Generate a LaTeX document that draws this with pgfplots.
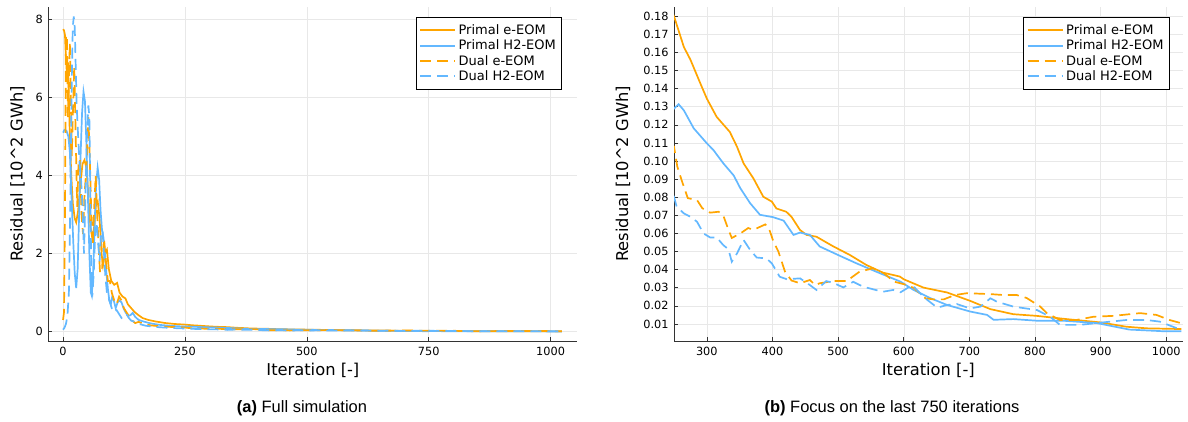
\documentclass[border=0pt]{standalone}
\usepackage{fontspec}
\setmainfont{DejaVu Sans}
\newfontfamily\capfont{Liberation Sans}
\usepackage{pgfplots}
\pgfplotsset{compat=1.18}
\usepackage{pgfplotstable}
\definecolor{jorange}{RGB}{255,165,0}
\definecolor{jblue}{RGB}{99,184,255}

\pgfplotstableread{
x y
0 7.75
2 7.72
4 7.6
6 7.0
8 6.6
10 6.9
12 6.0
14 5.0
17 4.0
20 3.3
24 2.9
27 2.8
31 3.1
35 3.7
40 4.3
44 4.4
48 4.2
52 3.5
56 2.7
60 2.4
64 2.7
68 3.3
71 3.35
75 2.9
79 2.0
82 1.7
86 2.0
90 2.1
94 1.6
99 1.3
105 1.2
111 1.25
116 1.0
122 0.9
128 0.85
133 0.7
140 0.6
147 0.5
155 0.42
163 0.35
175 0.3
190 0.26
210 0.22
230 0.195
250 0.180
265 0.163
275 0.156
290 0.143
300 0.1345
315 0.1244
335 0.1161
346 0.1079
356 0.0987
371 0.0904
386 0.0803
399 0.0776
406 0.0738
421 0.0720
429 0.0692
442 0.0619
452 0.0592
467 0.0582
492 0.0530
518 0.0481
543 0.0426
568 0.0384
594 0.0362
600 0.0347
630 0.0301
666 0.0274
701 0.0228
732 0.0182
767 0.0154
802 0.0145
848 0.0127
899 0.0109
939 0.0085
970 0.0076
1023 0.0072
}\PeE

\pgfplotstableread{
x y
0 5.1
3 5.17
7 5.15
11 5.0
14 4.6
17 3.6
21 2.3
24 1.5
27 1.12
30 1.6
33 3.0
36 4.5
39 5.6
42 6.15
45 5.9
48 4.8
51 3.5
54 2.0
57 1.0
59 0.92
62 1.6
65 2.8
68 3.8
71 4.2
74 3.9
77 3.1
80 2.6
83 2.4
86 2.0
89 1.5
92 1.1
95 0.8
98 0.7
101 0.9
104 0.8
108 0.6
112 0.75
116 0.8
120 0.75
124 0.6
128 0.5
133 0.4
138 0.42
143 0.48
148 0.38
155 0.3
165 0.26
180 0.21
200 0.17
225 0.145
250 0.129
257 0.1314
265 0.128
280 0.1181
300 0.1098
310 0.1061
325 0.0988
341 0.0920
351 0.0850
366 0.0767
381 0.0703
401 0.0690
417 0.0671
432 0.0592
442 0.0605
457 0.0592
472 0.0528
503 0.0476
528 0.0435
558 0.0389
595 0.0334
615 0.0288
641 0.0242
666 0.0205
701 0.0169
727 0.0150
737 0.0123
767 0.0127
803 0.0118
843 0.0118
894 0.0105
944 0.0069
995 0.0060
1023 0.0060
}\PhE

\pgfplotstableread{
x y
0 0.3
2 0.5
4 3.0
6 7.6
8 7.5
10 5.5
12 6.5
14 7.4
16 6.0
18 4.5
20 5.5
23 6.8
26 5.0
29 3.2
32 4.4
35 4.4
38 3.0
41 2.5
44 3.5
48 4.2
52 5.5
55 4.4
58 3.0
61 2.2
64 3.2
67 4.0
70 3.0
73 2.2
76 1.5
80 1.6
84 2.4
88 1.8
92 1.3
96 1.3
100 1.0
105 0.8
110 0.7
115 0.9
120 0.8
125 0.6
130 0.5
135 0.4
140 0.3
148 0.22
155 0.25
165 0.2
180 0.16
200 0.135
225 0.118
250 0.108
255 0.097
262 0.089
271 0.0795
285 0.0785
293 0.074
305 0.0715
318 0.072
325 0.070
333 0.062
338 0.0575
351 0.060
363 0.063
371 0.062
389 0.065
394 0.0635
401 0.056
409 0.050
419 0.039
429 0.034
442 0.0325
457 0.0343
465 0.0315
472 0.0325
493 0.0337
513 0.0337
533 0.039
553 0.0407
570 0.038
585 0.0334
600 0.032
615 0.030
633 0.0242
645 0.0236
661 0.0236
678 0.026
696 0.027
711 0.0268
732 0.0265
752 0.026
772 0.026
787 0.0244
808 0.0196
818 0.016
838 0.0122
863 0.0122
889 0.014
920 0.0145
960 0.016
985 0.015
1005 0.0122
1023 0.0104
}\DeE

\pgfplotstableread{
x y
0 0.05
3 0.1
6 0.2
9 0.4
12 1.0
14 2.5
16 4.5
18 6.5
20 7.8
22 8.08
24 7.8
26 6.8
28 5.8
31 5.0
34 4.3
37 3.9
40 3.2
43 2.0
46 3.5
49 5.0
52 5.8
54 5.5
56 3.5
58 1.5
60 0.9
63 1.5
66 2.5
69 2.8
72 2.3
75 1.8
78 2.5
81 2.6
84 2.0
87 1.4
90 1.0
95 0.8
100 0.6
105 0.5
110 0.55
115 0.45
120 0.35
125 0.4
130 0.45
135 0.35
140 0.28
148 0.25
155 0.2
170 0.15
190 0.12
220 0.095
250 0.0803
254 0.0748
265 0.0711
275 0.0692
285 0.0665
295 0.060
305 0.0578
315 0.0578
325 0.0536
333 0.0512
338 0.0444
346 0.049
356 0.0564
366 0.0509
376 0.0467
391 0.0462
399 0.0435
411 0.0361
422 0.0347
442 0.0352
457 0.0315
467 0.0288
482 0.0337
492 0.0328
508 0.0302
523 0.0333
538 0.0306
568 0.0278
584 0.0288
595 0.0275
613 0.0315
630 0.025
651 0.019
666 0.0205
681 0.021
701 0.0186
717 0.0196
732 0.0242
742 0.0223
767 0.0196
803 0.0177
823 0.014
838 0.0095
868 0.0095
899 0.0107
939 0.0122
970 0.0122
990 0.0113
1010 0.0085
1023 0.0067
}\DhE

\pgfplotsset{
 jstyle/.style={
  scale only axis, anchor=south west,
  axis x line*=bottom, axis y line*=left,
  axis line style={line width=0.8bp, black!80},
  tick align=inside, major tick length=4bp,
  tick style={line width=0.6bp, black!80},
  grid=major, grid style={line width=0.5bp, black!9},
  /pgf/number format/assume math mode=true,
  /pgf/number format/1000 sep={},
  tick label style={font=\fontsize{11.3bp}{13bp}\selectfont, black},
  xticklabel style={yshift=-3bp},
  yticklabel style={xshift=-2bp},
  label style={font=\fontsize{16.3bp}{18bp}\selectfont},
  legend cell align=left,
  legend style={font=\fontsize{13bp}{14bp}\selectfont, draw=black, line width=0.6bp,
    inner xsep=3bp, inner ysep=5bp, row sep=0bp, anchor=north east,
    nodes={inner xsep=2.5bp, inner ysep=2bp}},
  legend image code/.code={\draw[##1, line width=2bp] (0bp,0bp) -- (35bp,0bp);},
  xlabel={Iteration [-]},
  ylabel={Residual [10\textasciicircum 2 GWh]},
 },
 jdash/.style={dash pattern=on 11bp off 6bp},
}

\begin{document}
\begin{tikzpicture}[x=1bp,y=1bp]
\useasboundingbox (0,0) rectangle (1188,421);
\begin{axis}[jstyle, at={(48.4bp,80bp)}, width=529bp, height=334bp,
  xmin=-30, xmax=1055, ymin=-0.24, ymax=8.32,
  xtick={0,250,500,750,1000}, ytick={0,2,4,6,8},
  xlabel style={at={(axis description cs:0.5,-0.087)}, anchor=center},
  ylabel style={at={(axis description cs:-0.0586,0.5)}, anchor=center},
  legend style={at={(axis description cs:0.9703,0.969)}}]
\addplot[jorange, line width=1.7bp] table {\PeE};
\addplot[jblue, line width=1.7bp] table {\PhE};
\addplot[jorange, line width=1.7bp, jdash] table {\DeE};
\addplot[jblue, line width=1.7bp, jdash] table {\DhE};
\legend{Primal e-EOM, Primal H2-EOM, Dual e-EOM, Dual H2-EOM}
\end{axis}
\begin{axis}[jstyle, at={(674bp,80bp)}, width=508.7bp, height=334bp,
  xmin=250, xmax=1025, ymin=0.0006, ymax=0.1851,
  xtick={300,400,...,1000}, ytick={0.01,0.02,...,0.18},
  yticklabel style={/pgf/number format/.cd, fixed, fixed zerofill, precision=2},
  xlabel style={at={(axis description cs:0.5,-0.087)}, anchor=center},
  ylabel style={at={(axis description cs:-0.1003,0.5)}, anchor=center},
  legend style={at={(axis description cs:0.9737,0.969)}}]
\addplot[jorange, line width=1.7bp] table {\PeE};
\addplot[jblue, line width=1.7bp] table {\PhE};
\addplot[jorange, line width=1.7bp, jdash] table {\DeE};
\addplot[jblue, line width=1.7bp, jdash] table {\DhE};
\legend{Primal e-EOM, Primal H2-EOM, Dual e-EOM, Dual H2-EOM}
\end{axis}
\node[font=\capfont\fontsize{16.5bp}{18bp}\selectfont] at (302,13) {\textbf{(a)} Full simulation};
\node[font=\capfont\fontsize{16.5bp}{18bp}\selectfont] at (892,13) {\textbf{(b)} Focus on the last 750 iterations};
\end{tikzpicture}
\end{document}
